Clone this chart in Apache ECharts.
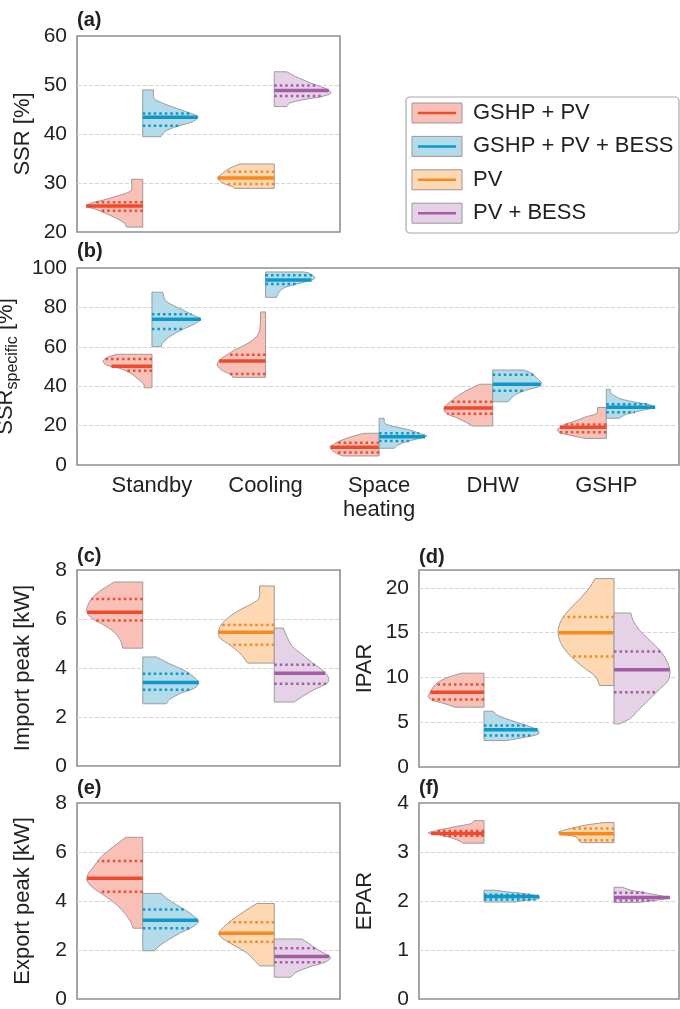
<!DOCTYPE html>
<html style="height: 100%">
<head>
    <meta charset="utf-8">
    <script src="https://cdn.jsdelivr.net/npm/echarts@6/dist/echarts.min.js"></script>
</head>
<body style="height: 100%; margin: 0; background: #fff">
    <div id="container" style="width: 680px; height: 1009px"></div>
    <script type="text/javascript">
        var myChart = echarts.init(document.getElementById('container'));
        var FONT = '"Liberation Sans", Arial, sans-serif';

        // groups (legend)
        var groupNames = ['GSHP + PV', 'GSHP + PV + BESS', 'PV', 'PV + BESS'];
        var lineColors = ['#ee4a2c', '#0b98cb', '#f7891f', '#a45ca6'];
        var fillColors = ['#f9c0b8', '#b3dbea', '#fdd8b2', '#e6d2e7'];

        // violin outlines: [value, relative half-width], bottom -> top
        // quartiles: [q1, median, q3]
        // (a) SSR [%]
        var ssrShape = [
            [[21.0,0.29],[21.8,0.32],[23.1,0.52],[24.5,0.8],[25.3,1.0],[25.95,0.9],[26.5,0.7],[27.2,0.5],[27.9,0.3],[28.6,0.2],[30.75,0.2]],
            [[39.45,0.32],[40.5,0.39],[41.5,0.59],[42.5,0.88],[43.5,0.98],[44.9,0.68],[46.3,0.35],[47.3,0.2],[49.0,0.19]],
            [[28.9,0.7],[29.2,0.73],[29.9,0.89],[31.0,1.0],[32.0,0.91],[33.0,0.79],[33.88,0.61]],
            [[45.6,0.22],[46.3,0.27],[47.0,0.51],[47.6,0.82],[48.3,1.0],[49.0,0.96],[50.3,0.67],[51.7,0.38],[52.7,0.22]]
        ];
        var ssrQuart = [[24.35,25.3,26.06],[41.7,43.4,44.2],[29.8,31.0,32.3],[47.76,48.9,49.9]];

        // (b) SSR specific [%]
        var specCats = ['Standby', 'Cooling', 'Space\nheating', 'DHW', 'GSHP'];
        var specRedShape = [
            [[39.2,0.16],[40.6,0.16],[43.1,0.26],[46.5,0.43],[49.1,0.67],[50.8,0.94],[52.9,1.0],[55.0,0.88],[56.2,0.71]],
            [[44.5,0.67],[45.7,0.7],[48.2,0.9],[50.8,0.99],[53.3,0.94],[55.8,0.8],[58.4,0.63],[61.8,0.36],[65.1,0.19],[68.5,0.12],[77.7,0.1]],
            [[4.6,0.75],[5.9,0.87],[7.6,0.97],[9.3,1.0],[11.0,0.9],[12.7,0.76],[14.4,0.56],[16.1,0.31]],
            [[19.8,0.42],[21.2,0.51],[23.7,0.71],[26.2,0.95],[28.8,1.0],[31.3,0.91],[34.7,0.74],[38.1,0.51],[41.0,0.27]],
            [[13.5,0.44],[16.4,0.95],[17.8,1.0],[19.8,0.92],[22.0,0.68],[24.5,0.41],[26.2,0.2],[29.2,0.18]]
        ];
        var specBlueShape = [
            [[60.1,0.19],[61.7,0.21],[65.1,0.36],[68.5,0.6],[71.6,0.87],[74.0,1.0],[76.1,0.84],[78.7,0.63],[81.2,0.42],[83.8,0.27],[87.7,0.22]],
            [[85.1,0.23],[87.1,0.26],[89.7,0.36],[91.4,0.56],[93.1,0.84],[94.3,0.99],[95.6,1.0],[97.5,0.88],[98.0,0.77]],
            [[8.5,0.31],[10.1,0.38],[11.8,0.55],[13.5,0.82],[14.7,0.98],[16.1,0.82],[17.8,0.62],[19.5,0.31],[21.1,0.12],[23.7,0.1]],
            [[32.1,0.31],[33.0,0.35],[35.5,0.45],[38.1,0.7],[39.7,0.94],[41.5,1.0],[44.0,0.91],[46.5,0.8],[48.2,0.64]],
            [[23.7,0.26],[25.7,0.41],[27.9,0.76],[29.3,1.0],[30.5,0.9],[32.1,0.55],[33.8,0.27],[36.4,0.1],[38.4,0.08]]
        ];
        var specRedQuart = [[47.9,50.1,53.8],[46.2,52.8,56.0],[6.4,9.0,11.3],[26.0,28.9,32.1],[16.6,19.1,20.6]];
        var specBlueQuart = [[69.0,74.0,76.5],[91.9,93.9,96.3],[12.2,14.4,16.1],[37.7,41.0,45.8],[26.8,29.3,30.8]];

        // (c) Import peak [kW]
        var impShape = [
            [[4.81,0.35],[5.15,0.4],[5.49,0.52],[5.76,0.69],[6.03,0.9],[6.3,0.99],[6.51,0.98],[6.78,0.92],[7.05,0.81],[7.32,0.64],[7.51,0.5]],
            [[2.54,0.42],[2.71,0.47],[2.98,0.68],[3.18,0.92],[3.41,0.99],[3.66,0.89],[3.93,0.71],[4.2,0.45],[4.45,0.24]],
            [[4.2,0.47],[4.61,0.61],[4.95,0.79],[5.22,0.96],[5.42,0.99],[5.76,0.94],[6.1,0.79],[6.37,0.61],[6.64,0.38],[6.85,0.27],[7.35,0.26]],
            [[2.61,0.35],[2.84,0.5],[3.11,0.7],[3.39,0.94],[3.59,0.96],[3.86,0.88],[4.2,0.68],[4.54,0.5],[4.88,0.32],[5.29,0.22],[5.63,0.16]]
        ];
        var impQuart = [[5.94,6.28,6.82],[3.11,3.41,3.77],[4.95,5.46,5.76],[3.36,3.79,4.13]];

        // (d) IPAR
        var iparShape = [
            [[6.68,0.52],[7.06,0.7],[7.5,0.94],[7.87,1.0],[8.36,0.96],[8.92,0.91],[9.47,0.82],[10.03,0.64],[10.48,0.4]],
            [[2.95,0.4],[3.32,0.73],[3.7,0.98],[4.15,0.96],[4.63,0.76],[5.19,0.49],[5.75,0.25],[6.23,0.16]],
            [[9.1,0.26],[10.03,0.32],[11.15,0.55],[12.27,0.76],[13.39,0.91],[14.5,0.99],[15.63,0.99],[16.74,0.91],[17.86,0.76],[18.98,0.58],[20.1,0.43],[21.04,0.34]],
            [[4.82,0.1],[5.38,0.28],[6.31,0.43],[7.43,0.61],[8.55,0.79],[9.66,0.97],[10.78,1.0],[11.9,0.94],[13.02,0.82],[14.14,0.64],[15.26,0.46],[16.38,0.34],[17.2,0.3]]
        ];
        var iparQuart = [[7.54,8.36,9.22],[3.51,4.15,4.63],[12.35,15.0,16.75],[8.36,10.86,12.91]];

        // (e) Export peak [kW]
        var expShape = [
            [[2.89,0.17],[3.09,0.2],[3.5,0.32],[3.9,0.49],[4.24,0.69],[4.58,0.9],[4.86,0.99],[5.13,0.96],[5.4,0.87],[5.81,0.73],[6.22,0.52],[6.6,0.3]],
            [[1.97,0.21],[2.13,0.27],[2.41,0.45],[2.68,0.65],[2.95,0.89],[3.16,0.99],[3.29,0.95],[3.56,0.8],[3.84,0.6],[4.11,0.42],[4.31,0.33]],
            [[1.35,0.25],[1.52,0.33],[1.87,0.48],[2.2,0.72],[2.48,0.92],[2.68,0.98],[2.95,0.89],[3.22,0.75],[3.56,0.54],[3.9,0.31]],
            [[0.89,0.29],[1.11,0.4],[1.32,0.64],[1.52,0.91],[1.69,1.0],[1.87,0.88],[2.07,0.73],[2.27,0.61],[2.45,0.49]]
        ];
        var expQuart = [[4.38,4.93,5.63],[2.89,3.21,3.65],[2.34,2.68,3.13],[1.5,1.73,2.07]];

        // (f) EPAR
        var eparShape = [
            [[3.18,0.38],[3.21,0.41],[3.28,0.56],[3.35,0.79],[3.39,1.0],[3.45,0.79],[3.52,0.5],[3.58,0.23],[3.64,0.18]],
            [[1.98,0.56],[2.01,0.73],[2.03,0.92],[2.07,1.0],[2.1,0.98],[2.16,0.65],[2.19,0.39],[2.22,0.21]],
            [[3.19,0.59],[3.31,0.69],[3.37,0.98],[3.41,0.99],[3.48,0.77],[3.55,0.5],[3.6,0.18]],
            [[1.97,0.42],[2.02,0.78],[2.07,1.0],[2.1,0.87],[2.16,0.6],[2.22,0.3],[2.28,0.15]]
        ];
        var eparQuart = [[3.33,3.38,3.43],[2.03,2.09,2.13],[3.24,3.37,3.48],[2.01,2.07,2.17]];

        var HALF = 0.43;

        function widthAt(shape, v) {
            if (v <= shape[0][0]) return shape[0][1];
            for (var i = 1; i < shape.length; i++) {
                if (v <= shape[i][0]) {
                    var a = shape[i - 1], b = shape[i];
                    return a[1] + (b[1] - a[1]) * (v - a[0]) / (b[0] - a[0]);
                }
            }
            return shape[shape.length - 1][1];
        }

        // two categories, groups split left/right
        function pairViolins(shapes, quarts) {
            return shapes.map(function (s, g) {
                return { x: Math.floor(g / 2), side: g % 2 === 0 ? -1 : 1, group: g, shape: s, q: quarts[g] };
            });
        }
        var specViolins = [];
        specCats.forEach(function (c, i) {
            specViolins.push({ x: i, side: -1, group: 0, shape: specRedShape[i], q: specRedQuart[i] });
            specViolins.push({ x: i, side: 1, group: 1, shape: specBlueShape[i], q: specBlueQuart[i] });
        });

        function violinSeries(idx, violins) {
            return {
                type: 'custom',
                xAxisIndex: idx, yAxisIndex: idx,
                data: violins.map(function (v) { return [v.x, v.q[1]]; }),
                renderItem: function (params, api) {
                    var vi = violins[params.dataIndex];
                    var s = vi.shape, n = s.length, cx = vi.x, sd = vi.side;
                    var pts = [];
                    var p0 = api.coord([cx, s[0][0]]);
                    pts.push(p0, p0);
                    for (var i = 0; i < n; i++) {
                        var p = api.coord([cx + sd * s[i][1] * HALF, s[i][0]]);
                        pts.push(p);
                        if (i === 0 || i === n - 1) pts.push(p);
                    }
                    var pe = api.coord([cx, s[n - 1][0]]);
                    pts.push(pe, pe);
                    var children = [{
                        type: 'polygon',
                        shape: { points: pts, smooth: 0.3 },
                        style: { fill: fillColors[vi.group], stroke: '#9b9b9b', lineWidth: 1 }
                    }];
                    [vi.q[0], vi.q[2], vi.q[1]].forEach(function (qv, k) {
                        var a = api.coord([cx, qv]);
                        var b = api.coord([cx + sd * widthAt(s, qv) * HALF, qv]);
                        children.push({
                            type: 'line',
                            shape: { x1: a[0], y1: a[1], x2: b[0], y2: b[1] },
                            style: k < 2
                                ? { stroke: lineColors[vi.group], lineWidth: 2.5, lineDash: [2.5, 3] }
                                : { stroke: lineColors[vi.group], lineWidth: 3.5 }
                        });
                    });
                    return { type: 'group', children: children };
                }
            };
        }

        var grids = [
            { left: 77, top: 36, width: 263, height: 196 },
            { left: 77, top: 268, width: 602, height: 197 },
            { left: 77, top: 570, width: 263, height: 196 },
            { left: 419, top: 570, width: 260, height: 197 },
            { left: 77, top: 803, width: 263, height: 196 },
            { left: 419, top: 803, width: 260, height: 196 }
        ].map(function (g) {
            return Object.assign(g, { show: true, borderColor: '#8e8e8e', borderWidth: 1.6, backgroundColor: 'transparent', outerBoundsMode: 'none', containLabel: false });
        });

        var yCfg = [
            { min: 20, max: 60, interval: 10, name: 'SSR [%]' },
            { min: 0, max: 100, interval: 20, name: '{m|SSR}{s|specific}{m| [%]}' },
            { min: 0, max: 8, interval: 2, name: 'Import peak [kW]' },
            { min: 0, max: 22, interval: 5, name: 'IPAR' },
            { min: 0, max: 8, interval: 2, name: 'Export peak [kW]' },
            { min: 0, max: 4, interval: 1, name: 'EPAR' }
        ];

        var xAxes = grids.map(function (g, i) {
            var isB = i === 1;
            return {
                type: 'value', gridIndex: i,
                min: isB ? -0.66 : -0.5, max: isB ? 4.64 : 1.5,
                axisLine: { show: false }, axisTick: { show: false }, splitLine: { show: false },
                axisLabel: isB ? {
                    show: true, customValues: [0, 1, 2, 3, 4],
                    formatter: function (v) { return specCats[Math.round(v)]; },
                    fontSize: 22, lineHeight: 24, color: '#222', fontFamily: FONT, margin: 9
                } : { show: false }
            };
        });

        var yAxes = yCfg.map(function (c, i) {
            return {
                type: 'value', gridIndex: i, min: c.min, max: c.max, interval: c.interval,
                name: c.name, nameLocation: 'middle', nameGap: i === 1 ? 45 : 43,
                nameTextStyle: {
                    fontSize: 22, color: '#222', fontFamily: FONT,
                    rich: {
                        m: { fontSize: 22, color: '#222', fontFamily: FONT, lineHeight: 30 },
                        s: { fontSize: 16, color: '#222', fontFamily: FONT, lineHeight: 18, verticalAlign: 'bottom' }
                    }
                },
                axisLine: { show: false }, axisTick: { show: false },
                axisLabel: { fontSize: 21, color: '#222', fontFamily: FONT, margin: 10, showMaxLabel: i !== 3 },
                splitLine: { show: true, showMinLine: false, showMaxLine: false, lineStyle: { type: 'dashed', color: '#d6d6d6', width: 1 } }
            };
        });

        var series = [
            violinSeries(0, pairViolins(ssrShape, ssrQuart)),
            violinSeries(1, specViolins),
            violinSeries(2, pairViolins(impShape, impQuart)),
            violinSeries(3, pairViolins(iparShape, iparQuart)),
            violinSeries(4, pairViolins(expShape, expQuart)),
            violinSeries(5, pairViolins(eparShape, eparQuart))
        ];

        // legend box and panel letters
        var graphics = [{
            type: 'rect', shape: { x: 406, y: 97, width: 273, height: 136, r: 4 },
            style: { fill: '#fff', stroke: '#a8a8a8', lineWidth: 1.2 }
        }];
        groupNames.forEach(function (name, i) {
            var cy = 113 + i * 33.4;
            graphics.push({ type: 'rect', shape: { x: 412, y: cy - 10, width: 50, height: 20 },
                style: { fill: fillColors[i], stroke: '#999', lineWidth: 1 } });
            graphics.push({ type: 'line', shape: { x1: 418, y1: cy, x2: 456, y2: cy },
                style: { stroke: lineColors[i], lineWidth: 2.5 } });
            graphics.push({ type: 'text', x: 473, y: cy,
                style: { text: name, font: '22px ' + FONT, fill: '#222', verticalAlign: 'middle', textVerticalAlign: 'middle' } });
        });
        [['(a)', 77, 20], ['(b)', 77, 251], ['(c)', 77, 556], ['(d)', 419, 557], ['(e)', 77, 788], ['(f)', 419, 788]].forEach(function (p) {
            graphics.push({ type: 'text', x: p[1], y: p[2],
                style: { text: p[0], font: 'bold 20px ' + FONT, fill: '#222', verticalAlign: 'middle', textVerticalAlign: 'middle' } });
        });

        var option = {
            animation: false,
            backgroundColor: '#fff',
            grid: grids,
            xAxis: xAxes,
            yAxis: yAxes,
            series: series,
            graphic: graphics
        };

        myChart.setOption(option);
        window.addEventListener('resize', function () { myChart.resize(); });
    </script>
</body>
</html>
